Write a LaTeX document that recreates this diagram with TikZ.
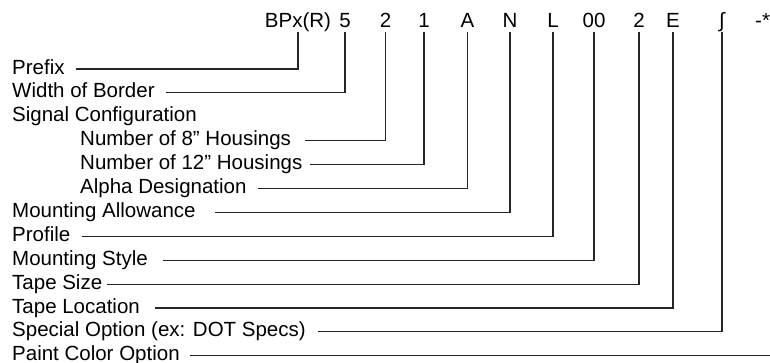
\documentclass[tikz,border=0pt]{standalone}
\usepackage{fontspec}
\setmainfont{Liberation Sans}
\begin{document}
\begin{tikzpicture}
[x=1pt, y=-1pt,
 lineDecorate/.style={line width=1.1pt, black!85},
 codeDecorate/.style={anchor=base, inner sep=0pt, text height=14pt, text depth=5pt, font=\fontsize{20.5}{24}\selectfont},
 labelDecorate/.style={anchor=base west, inner sep=0pt, text height=14pt, text depth=4pt, font=\fontsize{20.5}{24}\selectfont}]

 \useasboundingbox (0,0) rectangle (770,362);

 % part number
 \foreach \n/\x/\t in {c0/298/BPx(R), c1/345/5, c2/385.5/2, c3/424/1, c4/467.5/A, c5/510/N, c6/553/L, c7/594/00, c8/639/2, c9/673/E, c10/722/∫}
 {
          \node (\n) at (\x,27) [codeDecorate] {\t};
 }
 \node (c11) at (755,27) [codeDecorate, anchor=base west] {-**};
 \coordinate (edge) at (775,0);

 % descriptions
 \foreach \n/\x/\t [count=\i from 0] in {p0/12/Prefix, p1/12/Width of Border, s/12/Signal Configuration, p2/80/Number of 8” Housings, p3/80/Number of 12” Housings, p4/80/Alpha Designation, p5/12/Mounting Allowance, p6/12/Profile, p7/12/Mounting Style, p8/12/Tape Size, p9/12/Tape Location, p10/12/Special Option (ex: DOT Specs), p11/12/Paint Color Option}
 {
          \node (\n) at (\x,74+23.9*\i) [labelDecorate] {\t};
 }

 \foreach \l/\c/\g in {p0/c0/11, p1/c1/11, p2/c2/14, p3/c3/7, p4/c4/11, p5/c5/19, p6/c6/11, p7/c7/15, p8/c8/5, p9/c9/15, p10/c10/12}
 {
          \draw[lineDecorate] ([xshift=\g pt]\l.east) -| (\c.south);
 }
 \draw[lineDecorate] ([xshift=10pt]p11.east) -- (edge |- p11.east);
\end{tikzpicture}
\end{document}
